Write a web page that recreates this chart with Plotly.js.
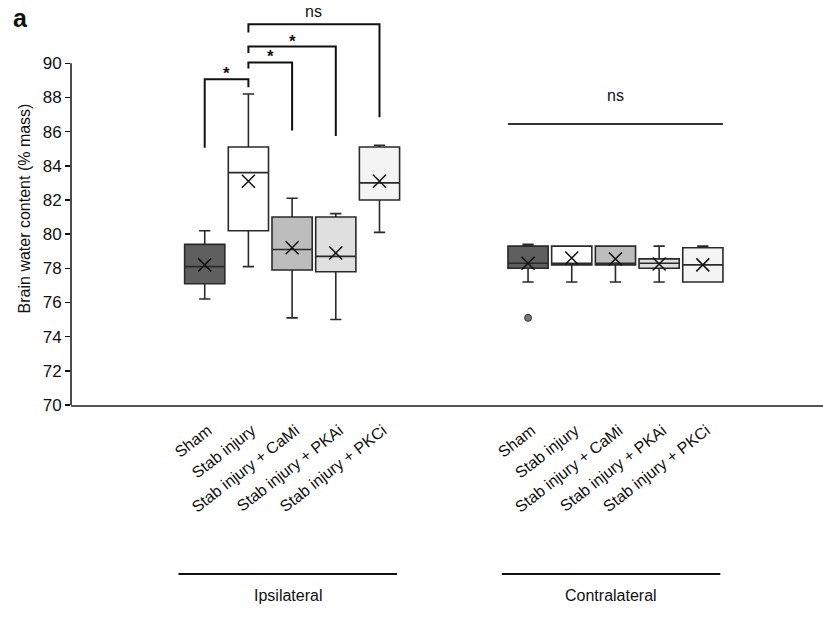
<!DOCTYPE html>
<html><head><meta charset="utf-8">
<script src="https://cdn.plot.ly/plotly-3.0.1.min.js"></script>
<style>html,body{margin:0;padding:0;background:#fff}</style>
</head><body><div id="chart" style="width:823px;height:621px"></div>
<script>
// ---- data ----
const categories = ["Sham", "Stab injury", "Stab injury + CaMi", "Stab injury + PKAi", "Stab injury + PKCi"];
const groups = ["Ipsilateral", "Contralateral"];

const ipsiLower  = [76.2, 78.1, 75.1, 75.0, 80.1];
const ipsiQ1     = [77.1, 80.2, 77.9, 77.8, 82.0];
const ipsiMedian = [78.1, 83.6, 79.1, 78.7, 83.0];
const ipsiQ3     = [79.4, 85.1, 81.0, 81.0, 85.1];
const ipsiUpper  = [80.2, 88.2, 82.1, 81.2, 85.2];
const ipsiMean   = [78.2, 83.1, 79.2, 78.9, 83.1];

const contraLower  = [77.2, 77.2, 77.2, 77.2, 77.2];
const contraQ1     = [78.0, 78.2, 78.2, 78.0, 77.2];
const contraMedian = [78.3, 78.3, 78.3, 78.3, 78.2];
const contraQ3     = [79.3, 79.3, 79.3, 78.55, 79.2];
const contraUpper  = [79.4, 79.3, 79.3, 79.3, 79.3];
const contraMean   = [78.3, 78.6, 78.55, 78.25, 78.2];

const outlierCategory = [0];       // contralateral Sham
const outlierValue = [75.1];

// significance brackets (ipsilateral), indices into categories
const bracketFrom   = [0, 1, 1, 1];
const bracketTo     = [1, 2, 3, 4];
const bracketTop    = [89.07, 90.05, 90.98, 92.28];
const bracketLeftY  = [85.05, 89.7, 90.6, 91.8];
const bracketRightY = [88.6, 86.06, 85.75, 86.84];
const bracketLabel  = ["*", "*", "*", "ns"];
const contraNsY = 86.45;
const contraNsLabel = "ns";

// ---- layout helpers ----
const groupStart = [1, 8.4];
const pos = (g, i) => groupStart[g] + i;
const labelShift = 0.08;
const fillColors = ["#5f5f5f", "#ffffff", "#bdbdbd", "#dfdfdf", "#f4f4f4"];
const FONT = "Arial, 'Liberation Sans', Helvetica, sans-serif";
const boxW = 0.92;

const traces = [];
categories.forEach((c, i) => {
  traces.push({
    type: "box", name: c, showlegend: false,
    x: [pos(0, i), pos(1, i)],
    q1: [ipsiQ1[i], contraQ1[i]],
    median: [ipsiMedian[i], contraMedian[i]],
    q3: [ipsiQ3[i], contraQ3[i]],
    lowerfence: [ipsiLower[i], contraLower[i]],
    upperfence: [ipsiUpper[i], contraUpper[i]],
    width: boxW, whiskerwidth: 0.28,
    fillcolor: fillColors[i],
    line: {color: "#2a2a2a", width: 1.6},
    hoverinfo: "skip"
  });
});
const mx = [], my = [];
categories.forEach((c, i) => { mx.push(pos(0, i)); my.push(ipsiMean[i]); });
categories.forEach((c, i) => { mx.push(pos(1, i)); my.push(contraMean[i]); });
traces.push({
  type: "scatter", mode: "markers", x: mx, y: my, showlegend: false, hoverinfo: "skip",
  marker: {symbol: "x-thin-open", size: 13, color: "#111", line: {color: "#111", width: 1.5}}
});
traces.push({
  type: "scatter", mode: "markers", showlegend: false, hoverinfo: "skip",
  x: outlierCategory.map(i => pos(1, i)), y: outlierValue,
  marker: {symbol: "circle", size: 7, color: "#777", line: {color: "#333", width: 1}}
});

const shapes = [];
const annotations = [];
// y axis line only from 70 to 90
shapes.push({type: "line", xref: "paper", yref: "y", x0: 0, x1: 0, y0: 70, y1: 90,
  line: {color: "#111", width: 1.5}});
bracketFrom.forEach((f, k) => {
  const x0 = pos(0, f), x1 = pos(0, bracketTo[k]);
  const star = bracketLabel[k] === "*";
  shapes.push({type: "path", xref: "x", yref: "y",
    path: `M ${x0},${bracketLeftY[k]} L ${x0},${bracketTop[k]} L ${x1},${bracketTop[k]} L ${x1},${bracketRightY[k]}`,
    line: {color: "#111", width: 2}});
  annotations.push({xref: "x", yref: "y", x: (x0 + x1) / 2, y: bracketTop[k], yanchor: "bottom",
    text: star ? "<b>*</b>" : bracketLabel[k], showarrow: false, yshift: star ? -6 : 2,
    font: {family: FONT, size: star ? 17 : 16, color: "#111"}});
});
shapes.push({type: "line", xref: "x", yref: "y",
  x0: pos(1, 0) - boxW / 2, x1: pos(1, categories.length - 1) + boxW / 2, y0: contraNsY, y1: contraNsY,
  line: {color: "#333", width: 2}});
annotations.push({xref: "x", yref: "y", x: pos(1, 2), y: contraNsY, yanchor: "bottom", yshift: 18,
  text: contraNsLabel, showarrow: false, font: {family: FONT, size: 16, color: "#111"}});

groups.forEach((g, k) => {
  const c = (pos(k, 0) + pos(k, categories.length - 1)) / 2 - 0.1;
  shapes.push({type: "line", xref: "x", yref: "paper", x0: c - 2.5, x1: c + 2.5, y0: -0.43, y1: -0.43,
    line: {color: "#111", width: 2}});
  annotations.push({xref: "x", yref: "paper", x: c, y: -0.512, text: g, showarrow: false,
    font: {family: FONT, size: 16, color: "#111"}});
});
annotations.push({xref: "paper", yref: "paper", x: -0.08, y: 1.025, xanchor: "left", yanchor: "top",
  text: "<b>a</b>", showarrow: false, font: {family: FONT, size: 25, color: "#111"}});

const layout = {
  width: 823, height: 621,
  margin: {l: 71, r: 0, t: 12, b: 216},
  paper_bgcolor: "#fff", plot_bgcolor: "#fff",
  boxmode: "overlay",
  showlegend: false,
  font: {family: FONT, color: "#111"},
  xaxis: {
    range: [-2.06, 15.15], showgrid: false, zeroline: false,
    showline: true, linecolor: "#555", linewidth: 2,
    ticks: "", tickangle: -38, ticklabelstandoff: 8,
    tickmode: "array",
    tickvals: categories.map((c, i) => pos(0, i) + labelShift).concat(categories.map((c, i) => pos(1, i) + labelShift)),
    ticktext: categories.concat(categories),
    tickfont: {family: FONT, size: 16, color: "#111"}
  },
  yaxis: {
    range: [70, 93], showgrid: false, zeroline: false, showline: false,
    ticks: "outside", ticklen: 5, tickwidth: 1.5, tickcolor: "#111",
    tickmode: "array", tickvals: [70, 72, 74, 76, 78, 80, 82, 84, 86, 88, 90],
    tickfont: {family: FONT, size: 17, color: "#111"},
    title: {text: "Brain water content (% mass)", font: {family: FONT, size: 16, color: "#111"}, standoff: 8}
  },
  shapes: shapes,
  annotations: annotations
};
Plotly.newPlot("chart", traces, layout, {displayModeBar: false, staticPlot: true});
</script></body></html>
